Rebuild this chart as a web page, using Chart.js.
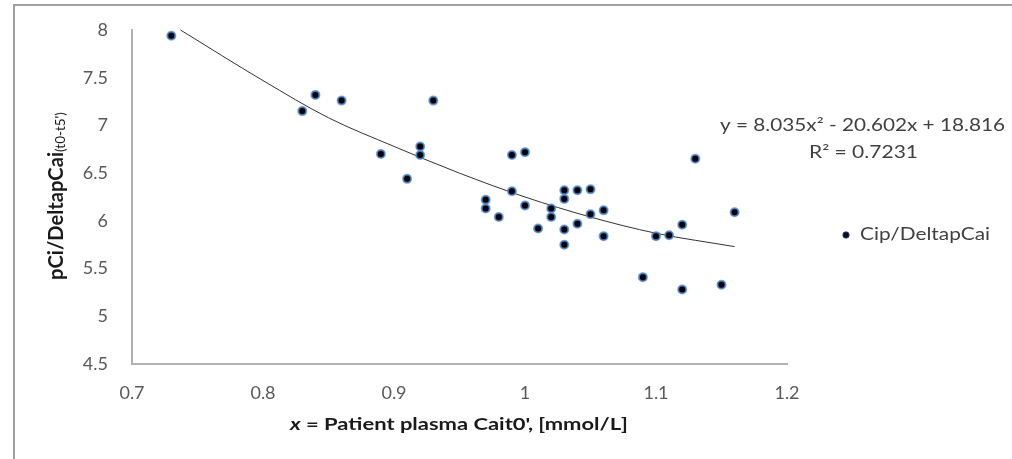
<!DOCTYPE html>
<html><head><meta charset="utf-8">
<script src="https://cdn.jsdelivr.net/npm/chart.js@4/dist/chart.umd.min.js"></script>
<style>html,body{margin:0;padding:0;background:#fff;overflow:hidden}</style>
</head><body>
<canvas id="c" width="1012" height="459" style="width:1012px;height:459px;display:block"></canvas>
<script>
// ---- data ----
const plasmaCa = [0.73,0.83,0.84,0.86,0.89,0.91,0.92,0.92,0.93,0.97,0.97,0.98,0.99,0.99,1.00,1.00,1.01,1.02,1.02,1.03,1.03,1.03,1.03,1.04,1.04,1.05,1.05,1.06,1.06,1.09,1.10,1.11,1.12,1.12,1.13,1.15,1.16];
const ratioValues = [7.94,7.15,7.32,7.26,6.70,6.44,6.78,6.69,7.26,6.22,6.13,6.04,6.69,6.31,6.72,6.16,5.92,6.13,6.04,6.32,6.23,5.91,5.75,6.32,5.97,6.33,6.07,6.11,5.84,5.41,5.84,5.85,5.96,5.28,6.65,5.33,6.09];
const trendXs = [0.737,0.80,0.85,0.90,0.95,1.00,1.05,1.10,1.16];
const trendYs = [8.00,7.47,7.08,6.78,6.50,6.25,6.04,5.87,5.73];
const xTickValues = [0.7,0.8,0.9,1.0,1.1,1.2];
const yTickValues = [4.5,5,5.5,6,6.5,7,7.5,8];
const seriesName = 'Cip/DeltapCai';
const equationText = ['y = 8.035x\u00B2 - 20.602x + 18.816', 'R\u00B2 = 0.7231'];
const xTitleItalic = 'x';
const xTitleRest = " = Patient plasma Cait0', [mmol/L]";
const yTitleMain = 'pCi/DeltapCai';
const yTitleSub = "(t0-t5')";

const FONT = 'Lato, "Open Sans", sans-serif';

const scatterPts = plasmaCa.map((x,i)=>({x, y: ratioValues[i]}));
const trendPts = trendXs.map((x,i)=>({x, y: trendYs[i]}));

// draw horizontal text stretched to a target width (reference text is wide)
function stretchText(ctx, text, left, y, width){
  const w = ctx.measureText(text).width;
  ctx.save();
  ctx.translate(left, y);
  ctx.scale(width / w, 1);
  ctx.textAlign = 'left';
  ctx.fillText(text, 0, 0);
  ctx.restore();
}

const decor = {
  id:'decor',
  afterDraw(chart){
    const ctx = chart.ctx;
    ctx.save();
    // outer frame
    ctx.strokeStyle = '#a0a0a0';
    ctx.lineWidth = 2;
    ctx.beginPath();
    ctx.moveTo(14, 459); ctx.lineTo(14, 5); ctx.lineTo(1012, 5);
    ctx.stroke();

    // x title (italic x + bold rest), spanning ~290..628
    ctx.fillStyle = '#1a1a1a';
    ctx.textBaseline = 'middle';
    ctx.font = 'italic bold 17px ' + FONT;
    const w1 = ctx.measureText(xTitleItalic).width;
    ctx.font = 'bold 17px ' + FONT;
    const w2 = ctx.measureText(xTitleRest).width;
    const k = 338 / (w1 + w2);
    ctx.font = 'italic bold 17px ' + FONT;
    stretchText(ctx, xTitleItalic, 290, 425, w1 * k);
    ctx.font = 'bold 17px ' + FONT;
    stretchText(ctx, xTitleRest, 290 + w1 * k, 425, w2 * k);

    // y title (rotated): bold part ~128px long, subscript ~40px long
    ctx.save();
    ctx.translate(63, 196);
    ctx.rotate(-Math.PI/2);
    ctx.textBaseline = 'alphabetic';
    ctx.textAlign = 'left';
    ctx.font = 'bold 17px ' + FONT;
    let s1 = 17 * 128 / ctx.measureText(yTitleMain).width;
    ctx.font = 'bold ' + s1.toFixed(2) + 'px ' + FONT;
    const m1 = ctx.measureText(yTitleMain).width;
    ctx.font = '12px ' + FONT;
    let s2 = 12 * 40 / ctx.measureText(yTitleSub).width;
    ctx.font = s2.toFixed(2) + 'px ' + FONT;
    const m2 = ctx.measureText(yTitleSub).width;
    const start = -(m1 + m2)/2;
    ctx.font = 'bold ' + s1.toFixed(2) + 'px ' + FONT;
    ctx.fillText(yTitleMain, start, 0);
    ctx.font = s2.toFixed(2) + 'px ' + FONT;
    ctx.fillText(yTitleSub, start + m1, 2);
    ctx.restore();

    // equation
    ctx.fillStyle = '#404040';
    ctx.font = '17px ' + FONT;
    ctx.textBaseline = 'middle';
    stretchText(ctx, equationText[0], 720, 126, 285);
    stretchText(ctx, equationText[1], 809, 153, 109);

    // legend
    ctx.beginPath();
    ctx.arc(846, 235, 3.2, 0, Math.PI*2);
    ctx.fillStyle = '#0a0a20';
    ctx.fill();
    ctx.strokeStyle = 'rgba(40,70,140,0.8)';
    ctx.lineWidth = 1;
    ctx.stroke();
    ctx.fillStyle = '#404040';
    ctx.font = '17px ' + FONT;
    stretchText(ctx, seriesName, 860, 235, 130);
    ctx.restore();
  }
};

function noPad(s){ s.paddingTop = 0; s.paddingBottom = 0; s.paddingLeft = 0; s.paddingRight = 0; }

new Chart(document.getElementById('c'), {
  type: 'scatter',
  data: {
    datasets: [
      {
        label: seriesName,
        data: scatterPts,
        pointRadius: 4,
        pointHoverRadius: 4,
        backgroundColor: '#000000',
        borderColor: 'rgba(80,140,220,0.8)',
        borderWidth: 2,
        order: 1
      },
      {
        label: 'trend',
        type: 'line',
        data: trendPts,
        showLine: true,
        pointRadius: 0,
        borderColor: '#333333',
        borderWidth: 1,
        cubicInterpolationMode: 'monotone',
        fill: false,
        clip: false,
        order: 2
      }
    ]
  },
  options: {
    responsive: false,
    animation: false,
    devicePixelRatio: 1,
    layout: { padding: { left: 0, top: 30, right: 225, bottom: 0 } },
    plugins: { legend: { display: false }, tooltip: { enabled: false } },
    scales: {
      x: {
        type: 'linear', min: 0.7, max: 1.2,
        afterBuildTicks: s => { s.ticks = xTickValues.map(v => ({ value: v })); },
        afterFit: s => { s.height = 95; noPad(s); },
        grid: { display: false, drawTicks: false },
        border: { display: true, color: '#b0b0b0', width: 2 },
        ticks: { color: '#595959', font: { family: FONT, size: 18 }, padding: 18, maxRotation: 0,
                 callback: v => String(Math.round(v*10)/10) }
      },
      y: {
        type: 'linear', min: 4.5, max: 8,
        afterBuildTicks: s => { s.ticks = yTickValues.map(v => ({ value: v })); },
        afterFit: s => { s.width = 132; noPad(s); },
        grid: { display: false, drawTicks: false },
        border: { display: true, color: '#b0b0b0', width: 2 },
        ticks: { color: '#595959', font: { family: FONT, size: 18 }, padding: 24,
                 callback: v => String(v) }
      }
    }
  },
  plugins: [decor]
});
</script>
</body></html>
